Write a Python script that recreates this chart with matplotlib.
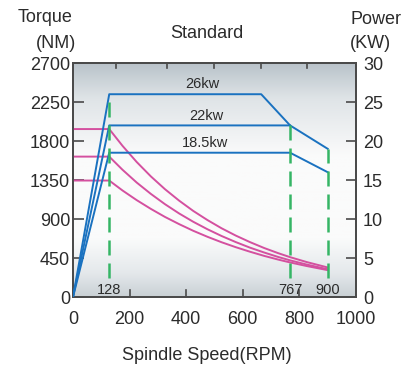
import matplotlib.pyplot as plt
import numpy as np
from matplotlib.colors import LinearSegmentedColormap

plt.rcParams['font.family'] = ['Liberation Sans', 'DejaVu Sans']

# torque curves (left axis, NM)
torque_x = [0, 128, 175, 225, 275, 325, 375, 425, 475, 525, 575, 625, 675, 725, 767, 825, 900]
torque_26 = [1938, 1938, 1744, 1558, 1392, 1244, 1112, 993, 888, 793, 709, 634, 566, 506, 460, 404, 341]
torque_22 = [1620, 1620, 1468, 1321, 1190, 1071, 964, 868, 782, 704, 634, 570, 514, 462, 423, 375, 320]
torque_18 = [1344, 1344, 1229, 1118, 1017, 924, 841, 764, 695, 632, 575, 523, 475, 432, 399, 358, 310]

# power curves (right axis, KW)
power_26_x = [0, 128, 665, 767, 900]
power_26_y = [0, 26, 26, 22, 19]
power_22_x = [0, 128, 767]
power_22_y = [0, 22, 22]
power_18_x = [0, 128, 767, 900]
power_18_y = [0, 18.5, 18.5, 16]

power_labels = ['26kw', '22kw', '18.5kw']
power_label_pos = [(458, 27.3), (470, 23.2), (465, 19.7)]

speed_marks = [128, 767, 900]
speed_mark_top = [26, 22, 19]

left_ticks = [0, 450, 900, 1350, 1800, 2250, 2700]
right_ticks = [0, 5, 10, 15, 20, 25, 30]
bottom_ticks = [200, 400, 600, 800]
bottom_labels = [0, 200, 400, 600, 800, 1000]
top_ticks = [152, 332, 498, 664, 827]

txt = '#2b2b2b'
edge = '#4a4a4a'
magenta = '#d4509f'
blue = '#1a72c0'
green = '#35b565'
fs = 13

fig = plt.figure(figsize=(4.04, 3.67), dpi=100)
ax = fig.add_axes([0.1807, 0.1907, 0.7005, 0.6376])
ax2 = ax.twinx()

# gradient background, bottom -> top
cmap = LinearSegmentedColormap.from_list('bg', [(0, '#c9d0d5'), (0.1, '#e4e8eb'), (0.25, '#fafbfb'),
                                                (0.6, '#fbfbfb'), (0.85, '#dfe4e7'), (1.0, '#b9c3ca')])
grad = np.linspace(0, 1, 256).reshape(-1, 1)
ax.imshow(grad, cmap=cmap, aspect='auto', extent=[0, 1, 0, 1], origin='lower',
          transform=ax.transAxes, zorder=0)

ax.set_xlim(0, 1000)
ax.set_ylim(0, 2700)
ax2.set_ylim(0, 30)

ax.plot(torque_x, torque_26, color=magenta, lw=1.4, zorder=3)
ax.plot(torque_x, torque_22, color=magenta, lw=1.4, zorder=3)
ax.plot(torque_x, torque_18, color=magenta, lw=1.4, zorder=3)

ax2.plot(power_26_x, power_26_y, color=blue, lw=1.4, zorder=3)
ax2.plot(power_22_x, power_22_y, color=blue, lw=1.4, zorder=3)
ax2.plot(power_18_x, power_18_y, color=blue, lw=1.4, zorder=3)

for xm, top in zip(speed_marks, speed_mark_top):
    ax2.plot([xm, xm], [2.4, top], color=green, lw=1.8, dashes=(6, 3.2), zorder=4)

for lab, (px, py) in zip(power_labels, power_label_pos):
    ax2.text(px, py, lab, ha='center', va='center', fontsize=10.5, color=txt)

for xm in speed_marks:
    ax2.text(xm, 0.85, str(xm), ha='center', va='center', fontsize=10.5, color=txt)

ax.set_xticks(bottom_labels)
ax.set_xticklabels([str(v) for v in bottom_labels], fontsize=fs, color=txt)
ax.tick_params(axis='x', direction='in', length=0, pad=10)
for xt in bottom_ticks:
    ax.plot([xt, xt], [0, 80], color=edge, lw=1.2, zorder=5, clip_on=False)
for xt in top_ticks:
    ax.plot([xt, xt], [2700, 2640], color=edge, lw=1.2, zorder=5, clip_on=False)

ax.set_yticks(left_ticks)
ax.set_yticklabels([str(v) for v in left_ticks], fontsize=fs, color=txt)
ax.tick_params(axis='y', direction='in', length=8, width=1.2, color=edge, pad=2)

ax2.set_yticks(right_ticks)
ax2.set_yticklabels([str(v) for v in right_ticks], fontsize=fs, color=txt)
ax2.tick_params(axis='y', direction='in', length=7, width=1.2, color=edge, pad=5)

for a in (ax, ax2):
    for s in a.spines.values():
        s.set_color(edge)
        s.set_linewidth(1.3)
ax2.patch.set_visible(False)

fig.text(45 / 404, 1 - 17 / 367, 'Torque', ha='center', va='center', fontsize=fs, color=txt)
fig.text(56 / 404, 1 - 43 / 367, '(NM)', ha='center', va='center', fontsize=fs, color=txt)
fig.text(376 / 404, 1 - 20 / 367, 'Power', ha='center', va='center', fontsize=fs, color=txt)
fig.text(370 / 404, 1 - 43 / 367, '(KW)', ha='center', va='center', fontsize=fs, color=txt)
fig.text(207 / 404, 1 - 33 / 367, 'Standard', ha='center', va='center', fontsize=fs, color=txt)
fig.text(207 / 404, 1 - 356 / 367, 'Spindle Speed(RPM)', ha='center', va='center', fontsize=fs, color=txt)

fig.savefig('out.png', dpi=100)
